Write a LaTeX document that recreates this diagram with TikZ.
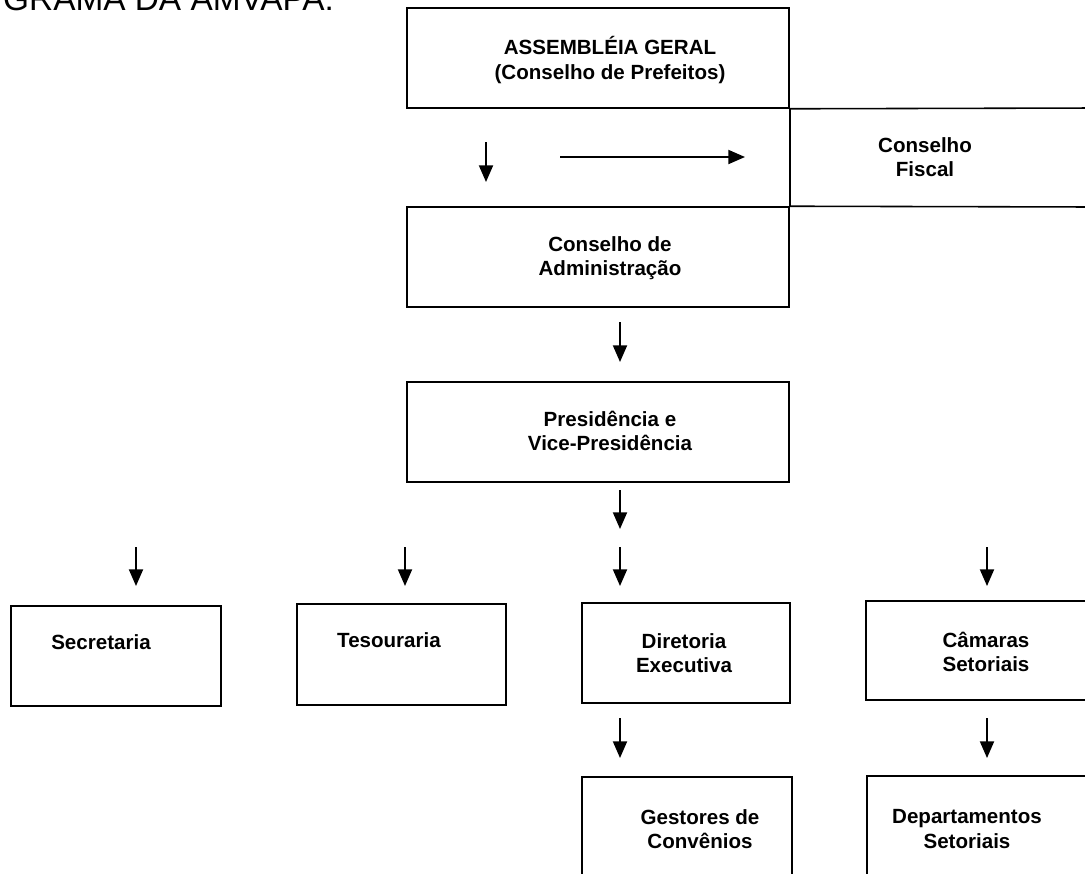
\documentclass[tikz,border=0pt]{standalone}
\usepackage{fontspec}
\setmainfont{Liberation Sans}
\usetikzlibrary{arrows.meta,positioning}

\begin{document}
\begin{tikzpicture}[y=-0.02cm,x=0.02cm,
	box/.style={draw,line width=0.9pt,inner sep=0pt},
	lbl/.style={font=\bfseries\fontsize{11.7}{13.7}\selectfont,align=center},
	arr/.style={-{Triangle[length=9.5pt,width=8pt]},line width=1pt}]
	\useasboundingbox (0,0) rectangle (1085,873);

	\node[anchor=base west,font=\fontsize{19}{22}\selectfont] (titulo) at (-3,10) {GRAMA DA AMVAPA:};

	% caixas
	\node[box,minimum width=7.64cm,minimum height=2cm] (asm) at (598,58) {};
	\node[box,minimum width=7.64cm,minimum height=2cm] (adm) at (598,257) {};
	\node[box,minimum width=7.64cm,minimum height=2cm] (pres) at (598,432) {};
	\node[box,minimum width=4.2cm,minimum height=2cm] (secr) at (116,656) {};
	\node[box,minimum width=4.18cm,minimum height=2.02cm] (tes) at (401.5,654.5) {};
	\node[box,minimum width=4.16cm,minimum height=2cm] (dir) at (686,653) {};
	\node[box,minimum width=4.68cm,minimum height=1.98cm] (cam) at (983,650.5) {};
	\node[box,minimum width=4.2cm,minimum height=2.46cm] (gest) at (687,838.5) {};
	\node[box,minimum width=4.66cm,minimum height=2.48cm] (dep) at (983.5,838) {};

	% conselho fiscal
	\coordinate (fisc1) at (1095,108);
	\coordinate (fisc2) at (1095,207);
	\draw[line width=0.9pt] (asm.south east) -- (fisc1);
	\draw[line width=0.9pt] (adm.north east) -- (fisc2);
	\draw[line width=0.9pt] (asm.south east) -- (adm.north east);

	% textos
	\node[lbl] (asmt) at (610,60) {ASSEMBLÉIA GERAL\\(Conselho de Prefeitos)};
	\node[lbl] (fisct) at (925,157) {Conselho\\Fiscal};
	\node[lbl] (admt) at (610,258) {Conselho de\\Administração};
	\node[lbl] (prest) at (610,431) {Presidência e\\Vice-Presidência};
	\node[lbl] (secrt) at (101,642) {Secretaria};
	\node[lbl] (test) at (389,640) {Tesouraria};
	\node[lbl] (dirt) at (684,653) {Diretoria\\Executiva};
	\node[lbl] (camt) at (986,652) {Câmaras\\Setoriais};
	\node[lbl] (gestt) at (700,829) {Gestores de\\Convênios};
	\node[lbl] (dept) at (967,829) {Departamentos\\Setoriais};

	% setas
	\foreach \n/\xa/\ya/\xb/\yb in {1/486/142/486/182, 2/560/157/745/157,
		3/620/322/620/362, 4/620/490/620/529,
		5/136/547/136/586, 6/405/547/405/586, 7/620/547/620/586, 8/987/547/987/586,
		9/620/718/620/758, 10/987/718/987/758}{
		\coordinate (s\n) at (\xa,\ya);
		\coordinate (e\n) at (\xb,\yb);
		\draw[arr] (s\n) -- (e\n);
	}
\end{tikzpicture}
\end{document}
